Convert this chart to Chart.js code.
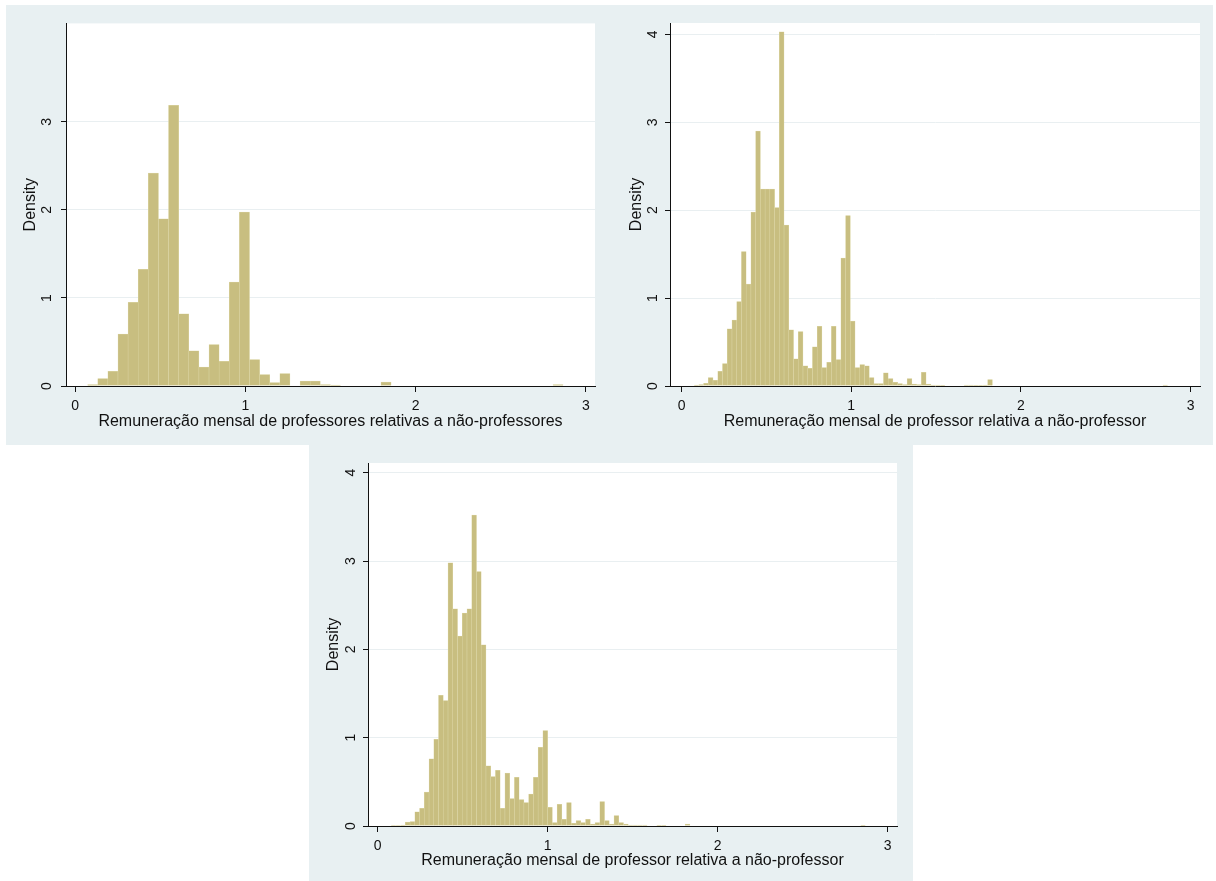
<!DOCTYPE html>
<html>
<head>
<meta charset="utf-8">
<script src="https://cdn.jsdelivr.net/npm/chart.js@4.4.1/dist/chart.umd.min.js"></script>
<style>
  body { margin: 0; background: #fff; width: 1216px; height: 881px; position: relative; overflow: hidden; }
  .panel { position: absolute; background: rgb(232, 240, 242); }
  .panel canvas { display: block; }
</style>
</head>
<body>
<div class="panel" style="left:6px;top:5px;width:604px;height:440px"><canvas id="hist1" width="604" height="440"></canvas></div>
<div class="panel" style="left:610px;top:5px;width:603px;height:440px"><canvas id="hist2" width="603" height="440"></canvas></div>
<div class="panel" style="left:309px;top:445px;width:604px;height:436px"><canvas id="hist3" width="604" height="436"></canvas></div>
<script>
// tick values
const xTicks = [0, 1, 2, 3];
const yTicksTop = [0, 1, 2, 3];
const yTicksAll = [0, 1, 2, 3, 4];

// axis titles
const yTitle = 'Density';
const xTitle1 = 'Remuneração mensal de professores relativas a não-professores';
const xTitle2 = 'Remuneração mensal de professor relativa a não-professor';
const xTitle3 = 'Remuneração mensal de professor relativa a não-professor';

// histogram 1: 47 bins
const start1 = 0.074;
const width1 = 0.0594;
const density1 = [
    0.015, 0.083, 0.166, 0.59, 0.95, 1.325, 2.42, 1.90, 3.19, 0.82,
    0.40, 0.215, 0.47, 0.28, 1.18, 1.975, 0.30, 0.13, 0.04, 0.14,
    0, 0.056, 0.056, 0.015, 0.01, 0, 0, 0, 0, 0.045,
    0, 0, 0, 0, 0, 0, 0, 0, 0, 0,
    0, 0, 0, 0, 0, 0, 0.015
];

// histogram 2: 100 bins
const start2 = 0.074;
const width2 = 0.0279;
const density2 = [
    0.01, 0.015, 0.03, 0.096, 0.065, 0.168, 0.256, 0.65, 0.75, 0.96,
    1.53, 1.16, 1.98, 2.90, 2.24, 2.24, 2.24, 2.03, 4.03, 1.83,
    0.64, 0.31, 0.62, 0.23, 0.20, 0.445, 0.68, 0.21, 0.27, 0.68,
    0.30, 1.455, 1.94, 0.74, 0.21, 0.245, 0.23, 0.095, 0.027, 0.027,
    0.15, 0.084, 0.042, 0.027, 0.015, 0.084, 0.023, 0.015, 0.156, 0.023,
    0.011, 0.011, 0.004, 0, 0, 0, 0, 0.011, 0.011, 0.004,
    0.004, 0.01, 0.072, 0, 0, 0, 0, 0, 0, 0,
    0, 0, 0, 0, 0, 0, 0, 0, 0, 0,
    0, 0, 0, 0, 0, 0, 0, 0, 0, 0,
    0, 0, 0, 0, 0, 0, 0, 0, 0, 0.011
];

// histogram 3: 100 bins
const start3 = 0.079;
const width3 = 0.0279;
const density3 = [
    0.005, 0.005, 0.01, 0.045, 0.05, 0.16, 0.2, 0.385, 0.76, 0.98,
    1.48, 1.42, 2.98, 2.46, 2.15, 2.41, 2.46, 3.52, 2.88, 2.05,
    0.68, 0.56, 0.63, 0.20, 0.60, 0.31, 0.55, 0.30, 0.265, 0.36,
    0.55, 0.89, 1.08, 0.21, 0.04, 0.245, 0.075, 0.264, 0.03, 0.06,
    0.038, 0.075, 0.023, 0.038, 0.276, 0.06, 0.023, 0.117, 0.038, 0.023,
    0.011, 0.011, 0.011, 0.011, 0, 0, 0.008, 0.008, 0, 0,
    0, 0, 0.023, 0, 0, 0, 0, 0, 0, 0,
    0, 0, 0, 0, 0, 0, 0, 0, 0, 0,
    0, 0, 0, 0, 0, 0, 0, 0, 0, 0,
    0, 0, 0, 0, 0, 0, 0, 0, 0, 0.008
];

const barFill = 'rgb(200, 190, 128)';
const barEdge = 'rgb(222, 216, 168)';
const gridColor = 'rgb(233, 239, 241)';
const inkColor = '#111';
const fontFamily = '"Liberation Sans", Arial, sans-serif';

const plotAreaPlugin = {
    id: 'plotArea',
    beforeDraw(chart) {
        const { ctx, chartArea: a } = chart;
        ctx.save();
        ctx.fillStyle = '#fff';
        ctx.fillRect(a.left, a.top, a.right - a.left, a.bottom - a.top);
        ctx.restore();
    }
};

function binPoints(start, width, heights) {
    return heights.map((d, i) => ({ x: start + (i + 0.5) * width, y: d }));
}

function makeHist(id, p) {
    const ctx = document.getElementById(id).getContext('2d');
    return new Chart(ctx, {
        type: 'bar',
        data: {
            datasets: [{
                data: binPoints(p.start, p.width, p.heights),
                backgroundColor: barFill,
                borderColor: barEdge,
                borderWidth: 0.5,
                barPercentage: 1,
                categoryPercentage: 1
            }]
        },
        options: {
            responsive: false,
            animation: false,
            layout: { padding: { top: p.top, right: p.right, bottom: 0, left: 0 } },
            plugins: { legend: { display: false }, tooltip: { enabled: false } },
            scales: {
                x: {
                    type: 'linear',
                    min: p.xMin,
                    max: p.xMax,
                    offset: false,
                    afterBuildTicks: s => { s.ticks = xTicks.map(v => ({ value: v })); },
                    afterFit: s => { s.height = p.bottomH; },
                    grid: { offset: false, drawOnChartArea: false, drawTicks: true, tickLength: 6, tickColor: inkColor },
                    border: { display: true, color: inkColor, width: 1 },
                    ticks: { color: inkColor, font: { family: fontFamily, size: 14 }, padding: 6, maxRotation: 0, autoSkip: false },
                    title: { display: true, text: p.xTitle, color: inkColor, font: { family: fontFamily, size: 16 }, padding: { top: 0, bottom: p.xTitlePad } }
                },
                y: {
                    min: 0,
                    max: p.yMax,
                    afterBuildTicks: s => { s.ticks = p.yTicks.map(v => ({ value: v })); },
                    afterFit: s => { s.width = p.leftW; },
                    grid: {
                        color: c => (c.tick && c.tick.value === 0) ? 'rgba(0,0,0,0)' : gridColor,
                        tickColor: inkColor,
                        tickLength: 5,
                        drawTicks: true
                    },
                    border: { display: true, color: inkColor, width: 1 },
                    ticks: { color: inkColor, font: { family: fontFamily, size: 14 }, padding: p.yTickPad, minRotation: 90, maxRotation: 90, crossAlign: 'center' },
                    title: { display: true, text: yTitle, color: inkColor, font: { family: fontFamily, size: 16 }, padding: { top: p.yTitlePad, bottom: 0 } }
                }
            }
        },
        plugins: [plotAreaPlugin]
    });
}

makeHist('hist1', {
    start: start1, width: width1, heights: density1, xTitle: xTitle1, yTicks: yTicksTop,
    xMin: -0.053, xMax: 3.053, yMax: 4.12,
    top: 16, right: 15, leftW: 60, bottomH: 59,
    xTitlePad: 13.5, yTitlePad: 15, yTickPad: 10
});

makeHist('hist2', {
    start: start2, width: width2, heights: density2, xTitle: xTitle2, yTicks: yTicksAll,
    xMin: -0.068, xMax: 3.055, yMax: 4.13,
    top: 18, right: 13, leftW: 60, bottomH: 59,
    xTitlePad: 13.5, yTitlePad: 17.4, yTickPad: 8
});

makeHist('hist3', {
    start: start3, width: width3, heights: density3, xTitle: xTitle3, yTicks: yTicksAll,
    xMin: -0.057, xMax: 3.055, yMax: 4.11,
    top: 18, right: 16, leftW: 59, bottomH: 55,
    xTitlePad: 11, yTitlePad: 15.4, yTickPad: 8
});
</script>
</body>
</html>
